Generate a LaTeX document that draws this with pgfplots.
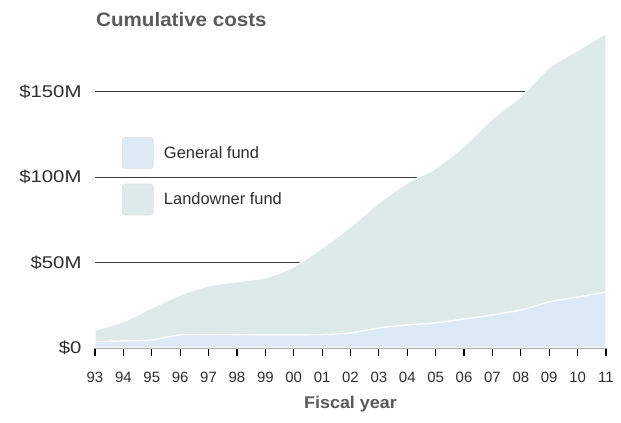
\documentclass[border=0pt]{standalone}
\usepackage{pgfplots}
\pgfplotsset{compat=1.18}
\usepackage{pgfplotstable}
\usepackage{fontspec}
\setmainfont{Liberation Sans}
\newfontfamily\widefont{Liberation Sans}[FakeStretch=1.2]
\newfontfamily\headfont{Liberation Sans}[FakeStretch=1.06]
\definecolor{genfund}{HTML}{DCEAF7}
\definecolor{landfund}{HTML}{DEEAE9}
\definecolor{gridc}{HTML}{3A3A3A}
\definecolor{txt}{HTML}{2E2E2E}
\definecolor{ttl}{HTML}{5A5A5A}
\pgfplotstableread{
x  gen   land
0  3.7   6.8
1  4.1   11.3
2  4.7   18.7
3  7.6   23.4
4  7.8   28.5
5  7.8   31.0
6  7.6   33.4
7  7.6   39.9
8  7.8   50.7
9  8.8   62.0
10 11.7  73.1
11 13.5  83.0
12 14.6  90.4
13 17.0  101.0
14 19.3  114.7
15 22.2  124.8
16 26.9  137.1
17 29.8  144.2
18 32.7  151.3
}\costs
\begin{document}
\begin{tikzpicture}
\useasboundingbox (-95bp,-75bp) rectangle (526bp,348bp);
\begin{axis}[
  at={(0,0)}, anchor=south west,
  scale only axis, width=511bp, height=324.9bp,
  xmin=0, xmax=18, ymin=0, ymax=190,
  clip=false,
  axis lines*=left,
  x axis line style={draw=none},
  y axis line style={draw=none},
  stack plots=y,
  xtick={0,...,18},
  xticklabels={93,94,95,96,97,98,99,00,01,02,03,04,05,06,07,08,09,10,11},
  ytick={0,50,100,150},
  yticklabels={\$0,\$50M,\$100M,\$150M},
  ymajorgrids,
  grid style={gridc, line width=0.9bp},
  xtick align=outside,
  major tick length=8bp,
  xtick style={black, line width=1.2bp},
  ytick style={draw=none},
  /pgf/number format/assume math mode=true,
  xticklabel style={font=\fontsize{15}{17}\selectfont, text=txt, yshift=-13bp},
  yticklabel style={font=\widefont\fontsize{17}{20}\selectfont, text=txt, xshift=-10bp},
  xlabel={Fiscal year},
  xlabel style={font=\headfont\bfseries\fontsize{17}{20}\selectfont, text=ttl, yshift=-6bp},
  legend style={at={(rel axis cs:0.053,0.649)}, anchor=north west,
    draw=none, fill=none, inner sep=0pt, outer sep=0pt,
    font=\fontsize{16.5}{19}\selectfont, text=txt, row sep=15bp},
  legend cell align=left,
  legend image code/.code={\path[#1, draw=black!12, line width=0.6bp, rounded corners=3bp] (0bp,-15.5bp) rectangle (31bp,15.5bp); \path (39bp,0bp);},
]
\addplot[fill=genfund, draw=white, line width=1.2bp, smooth, tension=0.45]
  table[x=x, y=gen] {\costs} \closedcycle;
\addlegendentry{General fund}
\addplot[fill=landfund, draw=white, line width=1.2bp, smooth, tension=0.45]
  table[x=x, y=land] {\costs} \closedcycle;
\addlegendentry{Landowner fund}
\draw[black, line width=2.2bp] (axis cs:0,0) -- (axis cs:18,0);
\end{axis}
\node[anchor=base west, inner sep=0pt, font=\headfont\bfseries\fontsize{19.5}{22}\selectfont, text=ttl] at (1bp,321bp) {Cumulative costs};
\end{tikzpicture}
\end{document}
